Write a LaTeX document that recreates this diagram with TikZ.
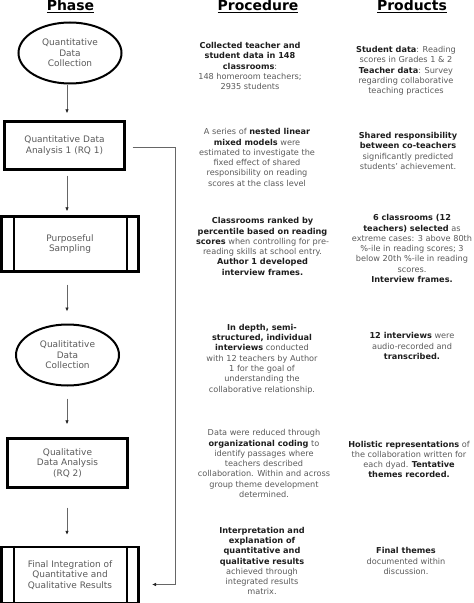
\documentclass[tikz,border=0pt]{standalone}
\usepackage{fontspec}
\setmainfont{DejaVu Sans}
\usetikzlibrary{arrows.meta,shapes.geometric}
\definecolor{txt}{HTML}{5A5A5A}
\definecolor{btxt}{HTML}{1E1E1E}
\definecolor{lin}{HTML}{666666}
\newcommand{\bt}[1]{{\bfseries\color{btxt}#1}}
\begin{document}
\begin{tikzpicture}[x=1bp,y=-1bp,
  hdr/.style={font=\fontsize{14}{16}\selectfont\bfseries, text=black, inner sep=0, anchor=base},
  phtext/.style={font=\fontsize{9}{10.5}\selectfont, text=txt, align=center},
  ell/.style={ellipse, draw=black, line width=2bp, minimum width=103bp, minimum height=61bp, inner sep=0, phtext},
  box/.style={rectangle, draw=black, line width=2.4bp, inner sep=0, phtext},
  desc/.style={font=\fontsize{8.2}{10.3}\selectfont, text=txt, align=center, inner sep=0},
  arr/.style={draw=lin, line width=0.9bp, -{Latex[length=4bp,width=3.6bp,color=black!85]}},
  inner/.style={draw=black, line width=2bp}]
\useasboundingbox (0,0) rectangle (474,603);
% headers
\node[hdr] (h1) at (70.5,10.5) {\underline{Phase}};
\node[hdr] (h2) at (258,10.5) {\underline{Procedure}};
\node[hdr] (h3) at (412,10.5) {\underline{Products}};
% phase shapes
\node[ell] (e1) at (70,53) {Quantitative\\Data\\Collection};
\node[box, minimum width=120bp, minimum height=48bp] (b2) at (64.5,145.5) {Quantitative Data\\Analysis 1 (RQ 1)};
\node[box, minimum width=137bp, minimum height=55bp] (b3) at (70,244) {Purposeful\\Sampling};
\draw[inner] ([xshift=14bp]b3.north west) -- ([xshift=14bp]b3.south west);
\draw[inner] ([xshift=-13bp]b3.north east) -- ([xshift=-13bp]b3.south east);
\node[ell] (e4) at (67.5,355) {Qualititative\\Data\\Collection};
\node[box, minimum width=120bp, minimum height=49bp] (b5) at (67.5,463) {Qualitative\\Data Analysis\\(RQ 2)};
\node[box, minimum width=137bp, minimum height=56bp] (b6) at (70,575) {Final Integration of\\Quantitative and\\Qualitative Results};
\draw[inner] ([xshift=14bp]b6.north west) -- ([xshift=14bp]b6.south west);
\draw[inner] ([xshift=-13bp]b6.north east) -- ([xshift=-13bp]b6.south east);
% arrows
\coordinate (ax) at (67,0);
\draw[arr] ([yshift=-1bp]e1.south -| ax) -- ([yshift=7bp]b2.north -| ax);
\draw[arr] ([yshift=-5bp]b2.south -| ax) -- ([yshift=4bp]b3.north -| ax);
\draw[arr] ([yshift=-12bp]b3.south -| ax) -- ([yshift=12bp]e4.north -| ax);
\draw[arr] ([yshift=-12bp]e4.south -| ax) -- ([yshift=13bp]b5.north -| ax);
\draw[arr] ([yshift=-19bp]b5.south -| ax) -- ([yshift=11bp]b6.north -| ax);
\coordinate (k1) at (175,147);
\coordinate (k2) at (175,584.5);
\coordinate (k3) at (152,584.5);
\draw[arr] ([xshift=7bp]b2.east |- k1) -- (k1) -- (k2) -- (k3);
% procedure
\node[desc] (p1) at (250,66) {\bt{Collected teacher and}\\\bt{student data in 148}\\\bt{classrooms}:\\148 homeroom teachers;\\2935 students};
\node[desc] (p2) at (257,157.5) {A series of \bt{nested linear}\\\bt{mixed models} were\\estimated to investigate the\\fixed effect of shared\\responsibility on reading\\scores at the class level};
\node[desc] (p3) at (262.5,246.5) {\bt{Classrooms ranked by}\\\bt{percentile based on reading}\\\bt{scores} when controlling for pre-\\reading skills at school entry.\\\bt{Author 1 developed}\\\bt{interview frames.}};
\node[desc] (p4) at (262,359) {\bt{In depth, semi-}\\\bt{structured, individual}\\\bt{interviews} conducted\\with 12 teachers by Author\\1 for the goal of\\understanding the\\collaborative relationship.};
\node[desc] (p5) at (264,463.5) {Data were reduced through\\\bt{organizational coding} to\\identify passages where\\teachers described\\collaboration. Within and across\\group theme development\\determined.};
\node[desc] (p6) at (262,561) {\bt{Interpretation and}\\\bt{explanation of}\\\bt{quantitative and}\\\bt{qualitative results}\\achieved through\\integrated results\\matrix.};
% products
\node[desc] (r1) at (406,71) {\bt{Student data}: Reading\\scores in Grades 1 \& 2\\\bt{Teacher data}: Survey\\regarding collaborative\\teaching practices};
\node[desc] (r2) at (408,151) {\bt{Shared responsibility}\\\bt{between co-teachers}\\significantly predicted\\students' achievement.};
\node[desc] (r3) at (412,248.5) {\bt{6 classrooms (12}\\\bt{teachers) selected} as\\extreme cases: 3 above 80th\\\%-ile in reading scores; 3\\below 20th \%-ile in reading\\scores.\\\bt{Interview frames.}};
\node[desc] (r4) at (412,346) {\bt{12 interviews} were\\audio-recorded and\\\bt{transcribed.}};
\node[desc] (r5) at (409,459.5) {\bt{Holistic representations} of\\the collaboration written for\\each dyad. \bt{Tentative}\\\bt{themes recorded.}};
\node[desc] (r6) at (406,561) {\bt{Final themes}\\documented within\\discussion.};
\end{tikzpicture}
\end{document}
